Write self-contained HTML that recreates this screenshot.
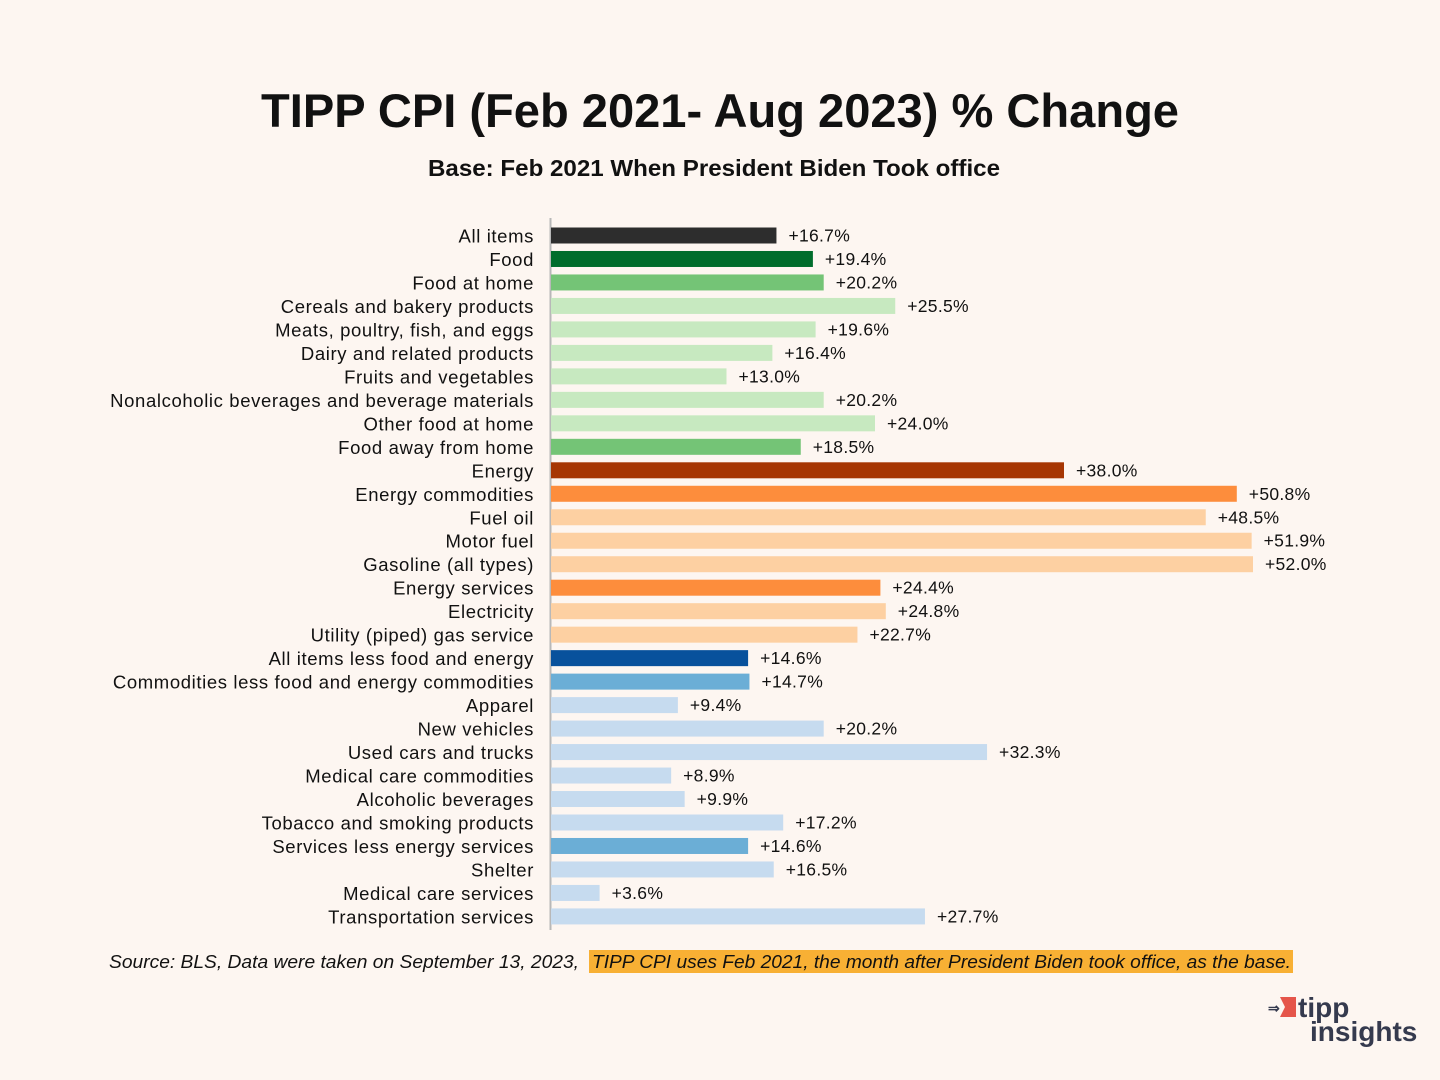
<!DOCTYPE html>
<html><head><meta charset="utf-8"><style>
body{margin:0;background:#fdf6f1;}
#c{position:relative;width:1440px;height:1080px;background:#fdf6f1;font-family:"Liberation Sans",sans-serif;overflow:hidden}
</style></head><body>
<div id="c">
<svg id="s" width="1440" height="1080" xmlns="http://www.w3.org/2000/svg">
<text x="720" y="127" text-anchor="middle" font-size="47" font-weight="bold" fill="#111" font-family="Liberation Sans, sans-serif" textLength="918" lengthAdjust="spacingAndGlyphs">TIPP CPI (Feb 2021- Aug 2023) % Change</text>
<text x="714" y="176" text-anchor="middle" font-size="23" font-weight="bold" fill="#111" font-family="Liberation Sans, sans-serif" textLength="572" lengthAdjust="spacingAndGlyphs">Base: Feb 2021 When President Biden Took office</text>
<line x1="550.5" y1="218" x2="550.5" y2="930" stroke="#b8b8b8" stroke-width="2"/>
<g id="bars"></g>
<rect x="589" y="950" width="704" height="23" fill="#f8b034"/>
<text x="109" y="968" font-size="18" font-style="italic" fill="#111" font-family="Liberation Sans, sans-serif" textLength="470" lengthAdjust="spacingAndGlyphs">Source:  BLS, Data were taken on September 13, 2023,</text>
<text x="592" y="968" font-size="18" font-style="italic" fill="#111" font-family="Liberation Sans, sans-serif" textLength="699" lengthAdjust="spacingAndGlyphs">TIPP CPI uses Feb 2021, the month after President Biden took office, as the base.</text>
<g>
<polygon points="1280,997 1296,997 1296,1017 1280,1017 1285,1007" fill="#e5554a"/>
<text x="1268" y="1013" font-size="14" fill="#353a4e" font-weight="bold">⇒</text>
<text x="1298" y="1017" font-size="28" font-weight="bold" fill="#353a4e" font-family="Liberation Sans, sans-serif">tipp</text>
<text x="1310" y="1041" font-size="28" font-weight="bold" fill="#353a4e" font-family="Liberation Sans, sans-serif">insights</text>
</g>
</svg>
</div>
<script>
const categories=["All items","Food","Food at home","Cereals and bakery products","Meats, poultry, fish, and eggs","Dairy and related products","Fruits and vegetables","Nonalcoholic beverages and beverage materials","Other food at home","Food away from home","Energy","Energy commodities","Fuel oil","Motor fuel","Gasoline (all types)","Energy services","Electricity","Utility (piped) gas service","All items less food and energy","Commodities less food and energy commodities","Apparel","New vehicles","Used cars and trucks","Medical care commodities","Alcoholic beverages","Tobacco and smoking products","Services less energy services","Shelter","Medical care services","Transportation services"];
const values=[16.7,19.4,20.2,25.5,19.6,16.4,13.0,20.2,24.0,18.5,38.0,50.8,48.5,51.9,52.0,24.4,24.8,22.7,14.6,14.7,9.4,20.2,32.3,8.9,9.9,17.2,14.6,16.5,3.6,27.7];
const colorGroups=["k","g1","g2","g3","g3","g3","g3","g3","g3","g2","o1","o2","o3","o3","o3","o2","o3","o3","b1","b2","b3","b3","b3","b3","b3","b3","b2","b3","b3","b3"];
const palette={k:"#2d2d2d",g1:"#006d2c",g2:"#74c476",g3:"#c7e9c0",o1:"#a63603",o2:"#fd8d3c",o3:"#fdd0a2",b1:"#08519c",b2:"#6baed6",b3:"#c6dbef"};
const x0=551,pxPer=13.5,y0=235.5,pitch=23.48,bh=16;
const xs=v=>x0+v*pxPer, ys=i=>y0+i*pitch;
const g=document.getElementById('bars'),NS="http://www.w3.org/2000/svg";
categories.forEach((c,i)=>{
 const r=document.createElementNS(NS,'rect');
 r.setAttribute('x',x0);r.setAttribute('y',ys(i)-bh/2);
 r.setAttribute('width',xs(values[i])-x0);r.setAttribute('height',bh);
 r.setAttribute('fill',palette[colorGroups[i]]);
 
 
 g.appendChild(r);
 const l=document.createElementNS(NS,'text');
 l.setAttribute('x',534);l.setAttribute('y',ys(i)+7);l.setAttribute('text-anchor','end');
 l.setAttribute('font-size','18.5');l.setAttribute('fill','#111');l.setAttribute('letter-spacing','0.62');l.textContent=c;
 
 
 g.appendChild(l);
 const v=document.createElementNS(NS,'text');
 v.setAttribute('x',xs(values[i])+12);v.setAttribute('y',ys(i)+6);
 v.setAttribute('font-size','17.5');v.setAttribute('fill','#111');v.setAttribute('letter-spacing','0.3');v.textContent='+'+values[i].toFixed(1)+'%';
 
 
 g.appendChild(v);
});
</script>
</body></html>
